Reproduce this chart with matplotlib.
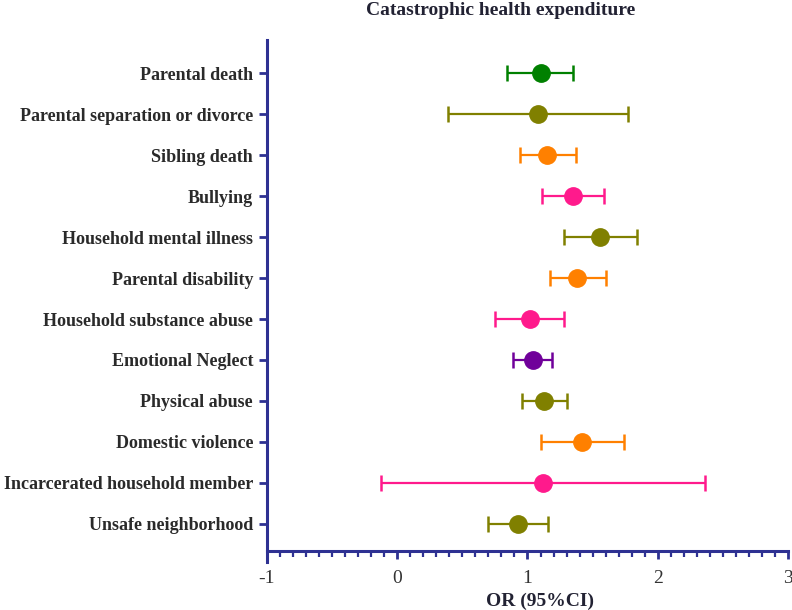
import matplotlib
matplotlib.use("Agg")
import matplotlib.pyplot as plt
from matplotlib.ticker import MultipleLocator
from matplotlib.lines import Line2D

categories = ["Parental death", "Parental separation or divorce", "Sibling death",
              "Bullying", "Household mental illness", "Parental disability",
              "Household substance abuse", "Emotional Neglect", "Physical abuse",
              "Domestic violence", "Incarcerated household member", "Unsafe neighborhood"]
or_values = [1.10, 1.08, 1.15, 1.35, 1.56, 1.38, 1.02, 1.04, 1.13, 1.42, 1.12, 0.93]
ci_lower = [0.845, 0.39, 0.94, 1.11, 1.28, 1.17, 0.75, 0.89, 0.96, 1.10, -0.125, 0.70]
ci_upper = [1.35, 1.77, 1.37, 1.59, 1.84, 1.60, 1.28, 1.19, 1.30, 1.74, 2.36, 1.16]
colors = ["#008000", "#808000", "#FF8000", "#FF1A8C", "#808000", "#FF8000",
          "#FF1A8C", "#70009A", "#808000", "#FF8000", "#FF1A8C", "#808000"]
x_ticks = [-1, 0, 1, 2, 3]

axis_color = "#2E3192"
plt.rcParams['font.family'] = ['Liberation Serif', 'DejaVu Serif']

fig = plt.figure(figsize=(7.92, 6.10), dpi=100)
ax = fig.add_axes([0.337, 0.0967, 0.658, 0.8373])

n = len(categories)
for i, (c, v, lo, hi, col) in enumerate(zip(categories, or_values, ci_lower, ci_upper, colors)):
    y = n - 1 - i
    ax.errorbar(v, y, xerr=[[v - lo], [hi - v]], fmt='o', color=col, ecolor=col,
                markersize=12.5, elinewidth=1.6, capsize=6, capthick=1.8, zorder=3)

ax.set_xlim(-1, 3)
ax.set_ylim(-0.66, n - 1 + 0.8)
ax.set_yticks(range(n))
ax.set_yticklabels(categories[::-1], fontsize=13, fontweight='bold', color='#2a2a2a')
ax.set_xticks(x_ticks)
ax.set_xticklabels([str(t) for t in x_ticks], fontsize=14, color='#333333')
ax.xaxis.set_minor_locator(MultipleLocator(0.1))

for s in ['top', 'right']:
    ax.spines[s].set_visible(False)
ax.spines['left'].set_visible(False)
ax.spines['bottom'].set_color(axis_color)
ax.spines['bottom'].set_linewidth(2.2)
ax.add_line(Line2D([0, 0], [-0.022, 1.0], transform=ax.transAxes, color=axis_color,
                   linewidth=2.2, clip_on=False))

ax.tick_params(axis='y', length=6, width=2, color=axis_color, pad=4)
ax.tick_params(axis='x', which='major', length=6, width=2, color=axis_color, pad=8)
ax.tick_params(axis='x', which='minor', length=4, width=1.6, color=axis_color)

ax.set_xlabel("OR (95%CI)", fontsize=14, fontweight='bold', color='#222233', labelpad=4)
ax.xaxis.label.set_x(0.524)
ttl = ax.set_title("Catastrophic health expenditure", fontsize=14, fontweight='bold',
                   color='#222233', pad=18)
ttl.set_x(0.449)

fig.savefig("out.png", dpi=100)
